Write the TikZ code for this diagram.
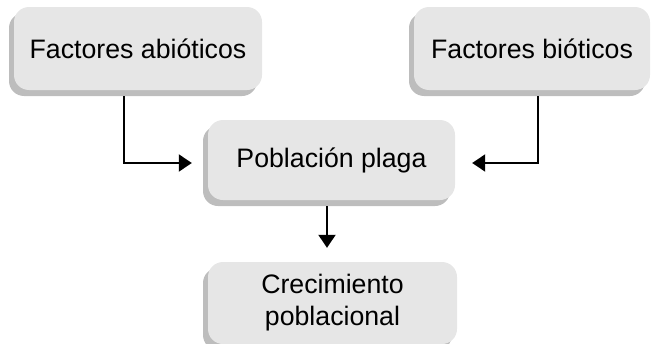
\documentclass[tikz,border=0pt]{standalone}
\usepackage{fontspec}
\setmainfont{Liberation Sans}
\usetikzlibrary{shadows,arrows.meta,calc}
\definecolor{facegray}{HTML}{E6E6E6}
\definecolor{shadegray}{HTML}{BDBDBD}
\tikzset{
  box/.style={rectangle, rounded corners=15pt, fill=facegray, inner sep=0pt,
    align=center, font=\fontsize{26.7}{32}\selectfont,
    general shadow={shadow xshift=-5pt, shadow yshift=-6pt, fill=shadegray}},
  link/.style={line width=2pt, -{Triangle[length=13pt,width=17pt]}}
}
\begin{document}
\begin{tikzpicture}[x=1pt,y=-1pt]
\useasboundingbox (0,0) rectangle (651,343);
\node[box, minimum width=248pt, minimum height=83pt] (abio) at (138,48.5) {Factores abióticos};
\node[box, minimum width=236pt, minimum height=83pt] (bio) at (532,48.5) {Factores bióticos};
\node[box, minimum width=247pt, minimum height=80pt] (pob) at (331.5,160) {Población plaga};
\node[box, minimum width=249pt, minimum height=82pt] (crec) at (332.5,303) {Crecimiento\\poblacional};
\draw[link] ($(abio.south west)+(110,6)$) |- ($(pob.west)+(-16,3)$);
\draw[link] ($(bio.south west)+(124,6)$) |- ($(pob.east)+(17,3)$);
\draw[link] ($(pob.south)+(-4.5,6)$) -- ($(crec.north)+(-5.5,-14)$);
\end{tikzpicture}
\end{document}
